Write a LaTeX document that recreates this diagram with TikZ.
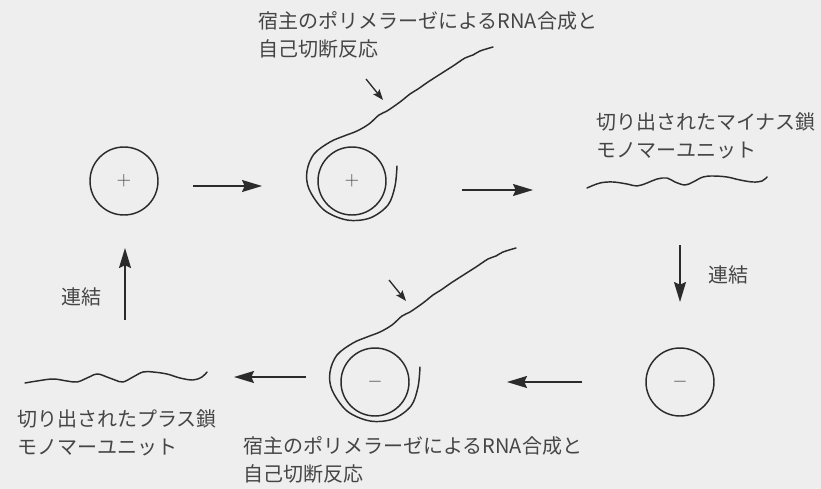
\documentclass[tikz,border=0pt]{standalone}
\usepackage{fontspec}
\newfontfamily\jp{Noto Sans CJK JP}
\usetikzlibrary{arrows.meta}
\definecolor{bg}{HTML}{EEEEEE}
\definecolor{ink}{HTML}{2B2B2B}
\definecolor{txt}{HTML}{454545}
\begin{document}
\begin{tikzpicture}[x=0.75pt,y=-0.75pt,
  ring/.style={circle,draw=ink,line width=1.1pt,minimum size=51pt,inner sep=0pt,font=\fontsize{14}{16}\selectfont,text=txt},
  strand/.style={draw=ink,line width=1.1pt,line join=round,line cap=round},
  bigarr/.style={draw=ink,line width=1.1pt,-{Stealth[length=15pt,width=9pt,inset=2pt]}},
  smallarr/.style={draw=ink,line width=1pt,-{Stealth[length=8pt,width=6pt,inset=1.5pt]}},
  lbl/.style={font=\jp\fontsize{15}{21}\selectfont,text=txt,align=left,inner sep=0pt}]
\fill[bg] (0,0) rectangle (821,489);
\useasboundingbox (0,0) rectangle (821,489);

% circles
\node[ring] (pa) at (124,181) {$+$};
\node[ring] (pb) at (352,181) {$+$};
\node[ring] (ma) at (680,382) {$-$};
\node[ring] (mb) at (375,382) {$-$};

% spirals around the replicating circles
\foreach \c in {pb,mb}{
  \begin{scope}[shift={(\c.center)}]
  \draw[strand] plot[smooth,tension=0.55] coordinates {
    (45,-15) (43,5) (36,24) (18,37) (-5,39) (-28,29) (-43,8) (-45,-10)
    (-38,-27) (-22,-39) (-8,-45) (5,-50) (17,-57) (27,-66) (35,-70)
    (48,-79) (58,-87) (66,-92) (76,-99) (90,-108)
    (101,-115) (113,-123) (121,-126) (128,-130) (141,-134)};
  \coordinate (\c-s) at (14,-102);
  \coordinate (\c-e) at (31,-81);
  \end{scope}
  \draw[smallarr] (\c-s) -- (\c-e);
}

% cut-out monomer strands
\draw[strand] plot[smooth,tension=0.6] coordinates {
  (587,188) (600,183) (613,182) (627,184) (637,186) (647,183) (657,179) (667,178)
  (675,182) (685,185) (693,182) (703,177) (713,176) (727,177) (740,180) (753,182)
  (762,181) (767,177)};
\draw[strand] plot[smooth,tension=0.6] coordinates {
  (25,383) (37,381) (53,379) (67,381) (77,382) (87,378) (97,374) (107,377)
  (115,380) (123,382) (133,377) (143,372) (153,372) (167,374) (180,378) (193,380)
  (202,377) (207,372)};

% arrow end points
\coordinate (a1s) at (193,186); \coordinate (a1e) at (262,186);
\coordinate (a2s) at (462,190); \coordinate (a2e) at (533,190);
\coordinate (a3s) at (680,245); \coordinate (a3e) at (680,302);
\coordinate (a4s) at (582,382); \coordinate (a4e) at (507,382);
\coordinate (a5s) at (306,377); \coordinate (a5e) at (234,377);
\coordinate (a6s) at (125,320); \coordinate (a6e) at (125,248);
\draw[bigarr] (a1s) -- (a1e);
\draw[bigarr] (a2s) -- (a2e);
\draw[bigarr] (a3s) -- (a3e);
\draw[bigarr] (a4s) -- (a4e);
\draw[bigarr] (a5s) -- (a5e);
\draw[bigarr] (a6s) -- (a6e);

% labels
\node[lbl,anchor=north west] (t1) at (258,11) {宿主のポリメラーゼによるRNA合成と\\自己切断反応};
\node[lbl,anchor=north west] (t2) at (243,436) {宿主のポリメラーゼによるRNA合成と\\自己切断反応};
\node[lbl,anchor=north west] (t3) at (596,112) {切り出されたマイナス鎖\\モノマーユニット};
\node[lbl,anchor=north west] (t4) at (17,409) {切り出されたプラス鎖\\モノマーユニット};
\node[lbl,anchor=west] (t5) at (708,275) {連結};
\node[lbl,anchor=west] (t6) at (61,297) {連結};
\end{tikzpicture}
\end{document}
